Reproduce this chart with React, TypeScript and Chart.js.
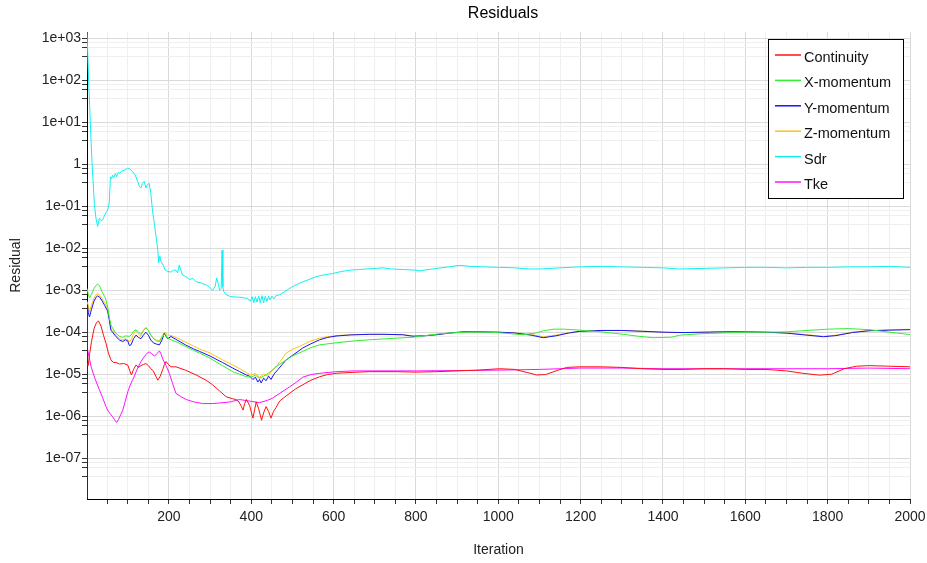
import React, { useEffect, useRef } from "react";
import { Chart, registerables } from "chart.js";

Chart.register(...registerables);

const FONT = '"Liberation Sans", Arial, Helvetica, sans-serif';

const titleText = "Residuals";
const xTitle = "Iteration";
const yTitle = "Residual";

const seriesLabels = ["Continuity", "X-momentum", "Y-momentum", "Z-momentum", "Sdr", "Tke"];
const seriesColors = ["#ff1010", "#33ee33", "#1515f0", "#ffc21a", "#10f0f0", "#ff10ff"];

const xMajorTicks = [200, 400, 600, 800, 1000, 1200, 1400, 1600, 1800, 2000];
const xMinorStep = 50;
const yMajorExps = [-8, -7, -6, -5, -4, -3, -2, -1, 0, 1, 2, 3];
const yMinorFactors = [0.8, 0.6, 0.37];

// [iteration, residual]
const continuity: [number, number][] = [
  [1, 1.8e-5], [4, 1.6e-5], [7, 2.9e-5], [12, 6e-5], [18, 1.2e-4], [24, 1.7e-4], [29, 1.85e-4],
  [35, 1.4e-4], [41, 8.5e-5], [47, 5.5e-5], [53, 3.2e-5], [59, 2.2e-5], [65, 1.9e-5], [71, 1.9e-5],
  [80, 1.75e-5], [90, 1.8e-5], [100, 1.65e-5], [105, 1.2e-5], [109, 9.6e-6], [114, 1.3e-5],
  [120, 1.66e-5], [126, 1.45e-5], [132, 1.6e-5], [138, 1.7e-5], [144, 1.8e-5], [150, 1.6e-5],
  [156, 1.35e-5], [162, 1.2e-5], [168, 9e-6], [173, 7.2e-6], [179, 9e-6], [185, 1.3e-5],
  [189, 1.7e-5], [193, 2e-5], [199, 1.7e-5], [205, 1.5e-5], [217, 1.5e-5], [240, 1.25e-5],
  [266, 9.6e-6], [290, 7.2e-6], [306, 5.6e-6], [323, 4e-6], [339, 2.9e-6], [355, 2.6e-6],
  [363, 2.5e-6], [370, 2.2e-6], [376, 1.7e-6], [380, 1.4e-6], [384, 2e-6], [388, 2.5e-6],
  [396, 1.8e-6], [404, 9e-7], [408, 1.4e-6], [412, 2.2e-6], [418, 1.5e-6], [425, 8e-7],
  [430, 1.2e-6], [436, 1.7e-6], [442, 1.3e-6], [448, 9e-7], [454, 1.3e-6], [460, 1.6e-6],
  [469, 2.3e-6], [480, 2.8e-6], [493, 3.5e-6], [508, 4.5e-6], [525, 5.6e-6], [545, 7.2e-6],
  [566, 8.7e-6], [585, 9.8e-6], [606, 1.05e-5], [640, 1.1e-5], [687, 1.15e-5], [750, 1.15e-5],
  [800, 1.12e-5], [850, 1.15e-5], [900, 1.2e-5], [950, 1.25e-5], [1003, 1.35e-5], [1040, 1.3e-5],
  [1070, 1.1e-5], [1093, 9.6e-6], [1115, 9.8e-6], [1140, 1.2e-5], [1166, 1.45e-5], [1198, 1.5e-5],
  [1250, 1.5e-5], [1300, 1.45e-5], [1350, 1.35e-5], [1400, 1.3e-5], [1450, 1.3e-5], [1500, 1.35e-5],
  [1550, 1.35e-5], [1600, 1.3e-5], [1650, 1.3e-5], [1700, 1.2e-5], [1740, 1.05e-5], [1780, 9.5e-6],
  [1810, 1e-5], [1840, 1.35e-5], [1870, 1.55e-5], [1900, 1.6e-5], [1950, 1.55e-5], [2000, 1.5e-5],
];

const xMomentum: [number, number][] = [
  [1, 1.1e-3], [4, 8e-4], [7, 6.5e-4], [12, 8e-4], [18, 1.1e-3], [23, 1.3e-3], [27, 1.4e-3],
  [32, 1.25e-3], [38, 9e-4], [44, 7e-4], [47, 5.9e-4], [51, 4e-4], [55, 2.3e-4], [59, 1.5e-4],
  [63, 1.26e-4], [71, 9.5e-5], [80, 8e-5], [88, 7.5e-5], [94, 8.2e-5], [100, 8e-5], [104, 8e-5],
  [108, 8.5e-5], [114, 1.05e-4], [120, 1.15e-4], [126, 1e-4], [132, 9e-5], [138, 1.1e-4],
  [144, 1.26e-4], [150, 1.1e-4], [156, 8.5e-5], [163, 7e-5], [170, 6.3e-5], [177, 6e-5],
  [183, 7.5e-5], [189, 9e-5], [193, 8.5e-5], [197, 7.2e-5], [205, 6.6e-5], [220, 5.8e-5],
  [240, 4.6e-5], [260, 3.7e-5], [274, 3.2e-5], [300, 2.4e-5], [330, 1.6e-5], [355, 1.15e-5],
  [372, 1e-5], [388, 8.7e-6], [400, 8.5e-6], [410, 9.5e-6], [420, 8e-6], [430, 9e-6], [444, 1.1e-5],
  [460, 1.5e-5], [485, 2.2e-5], [500, 2.7e-5], [525, 3.5e-5], [545, 4.3e-5], [566, 5e-5],
  [606, 5.6e-5], [650, 6.2e-5], [687, 6.6e-5], [750, 7.2e-5], [793, 7.6e-5], [858, 9.2e-5],
  [900, 9.8e-5], [930, 1e-4], [980, 1e-4], [1020, 9.4e-5], [1060, 8.7e-5], [1090, 9.5e-5],
  [1110, 1.08e-4], [1133, 1.18e-4], [1160, 1.18e-4], [1198, 1.12e-4], [1250, 1.02e-4], [1300, 9e-5],
  [1340, 8e-5], [1376, 7.4e-5], [1420, 7.6e-5], [1441, 8.5e-5], [1500, 9.3e-5], [1550, 9.6e-5],
  [1600, 1e-4], [1650, 1e-4], [1700, 1.02e-4], [1750, 1.1e-4], [1800, 1.18e-4], [1850, 1.22e-4],
  [1900, 1.15e-4], [1950, 1e-4], [2000, 8.8e-5],
];

const yMomentum: [number, number][] = [
  [1, 1.1e-8], [2, 4.5e-4], [4, 3e-4], [7, 2.3e-4], [12, 3.5e-4], [18, 5.5e-4], [23, 6.8e-4],
  [27, 7.3e-4], [32, 6.8e-4], [38, 5.5e-4], [44, 4.3e-4], [51, 3.2e-4], [55, 2e-4], [59, 1.12e-4],
  [63, 1e-4], [71, 7.9e-5], [80, 6.5e-5], [88, 6e-5], [94, 6.6e-5], [100, 6.2e-5], [104, 4.8e-5],
  [108, 5e-5], [114, 7e-5], [120, 8.5e-5], [126, 7.5e-5], [132, 7e-5], [138, 8.5e-5], [144, 1e-4],
  [150, 8.5e-5], [156, 6.5e-5], [163, 5.5e-5], [170, 5.2e-5], [177, 5e-5], [183, 6.5e-5],
  [189, 9.5e-5], [193, 8e-5], [197, 7e-5], [205, 7.9e-5], [220, 6.5e-5], [240, 5e-5], [260, 4e-5],
  [274, 3.5e-5], [300, 2.7e-5], [330, 1.9e-5], [355, 1.4e-5], [372, 1.15e-5], [388, 9.6e-6],
  [396, 9e-6], [404, 7.5e-6], [410, 8.5e-6], [416, 6.5e-6], [420, 7.5e-6], [424, 6.2e-6],
  [430, 8e-6], [436, 7e-6], [442, 9e-6], [448, 7.5e-6], [455, 1e-5], [465, 1.3e-5], [475, 1.7e-5],
  [485, 2.2e-5], [500, 2.8e-5], [525, 4.2e-5], [545, 5.3e-5], [566, 6.6e-5], [585, 7.5e-5],
  [606, 8.1e-5], [640, 8.6e-5], [687, 8.9e-5], [720, 8.9e-5], [768, 8.7e-5], [793, 8e-5],
  [820, 8.2e-5], [850, 8.7e-5], [880, 9.5e-5], [915, 1.02e-4], [950, 1.02e-4], [1000, 1e-4],
  [1040, 9.6e-5], [1080, 8.5e-5], [1109, 7.4e-5], [1140, 8.2e-5], [1170, 9.5e-5], [1198, 1.05e-4],
  [1250, 1.1e-4], [1300, 1.1e-4], [1350, 1.05e-4], [1400, 1e-4], [1450, 9.8e-5], [1500, 1e-4],
  [1550, 1.02e-4], [1600, 1.02e-4], [1650, 1e-4], [1700, 9.5e-5], [1750, 8.5e-5], [1790, 7.8e-5],
  [1820, 8.3e-5], [1860, 9.8e-5], [1900, 1.08e-4], [1950, 1.12e-4], [2000, 1.15e-4],
];

const zMomentum: [number, number][] = [
  [1, 5.4e-4], [4, 4.5e-4], [7, 3e-4], [12, 4.5e-4], [18, 6.5e-4], [23, 7.7e-4], [27, 8.2e-4],
  [32, 7.6e-4], [38, 6.2e-4], [44, 5e-4], [51, 3.6e-4], [55, 2.2e-4], [59, 1.2e-4], [63, 1.12e-4],
  [71, 8.5e-5], [80, 7e-5], [88, 6.6e-5], [94, 7e-5], [100, 6.5e-5], [104, 6e-5], [108, 6.5e-5],
  [114, 9e-5], [120, 1.1e-4], [126, 9e-5], [132, 8e-5], [138, 1.1e-4], [144, 1.32e-4], [150, 1.1e-4],
  [156, 8.5e-5], [163, 7e-5], [170, 6.3e-5], [177, 6.2e-5], [183, 8e-5], [189, 1e-4], [193, 9.5e-5],
  [197, 8.5e-5], [205, 8.4e-5], [220, 7.3e-5], [240, 5.8e-5], [260, 4.7e-5], [274, 4e-5],
  [300, 3.2e-5], [330, 2.2e-5], [355, 1.66e-5], [372, 1.35e-5], [388, 1.1e-5], [400, 9.5e-6],
  [410, 1.05e-5], [420, 8.5e-6], [430, 1e-5], [440, 9e-6], [450, 1.2e-5], [460, 1.5e-5], [470, 2e-5],
  [485, 3.2e-5], [500, 3.9e-5], [525, 5e-5], [545, 6.2e-5], [566, 7.2e-5], [585, 7.8e-5],
  [606, 8.3e-5], [640, 8.7e-5], [687, 8.9e-5], [720, 8.9e-5], [768, 8.7e-5], [793, 8.2e-5],
  [820, 8.3e-5], [850, 8.7e-5], [880, 9.5e-5], [915, 1.02e-4], [950, 1.02e-4], [1000, 1e-4],
  [1040, 9.7e-5], [1080, 8.8e-5], [1109, 7.8e-5], [1140, 8.5e-5], [1170, 9.7e-5], [1198, 1.05e-4],
  [1250, 1.1e-4], [1300, 1.1e-4], [1350, 1.06e-4], [1400, 1e-4], [1450, 9.8e-5], [1500, 1e-4],
  [1550, 1.03e-4], [1600, 1.03e-4], [1650, 1e-4], [1700, 9.6e-5], [1750, 8.7e-5], [1790, 8e-5],
  [1820, 8.5e-5], [1860, 1e-4], [1900, 1.1e-4], [1950, 1.13e-4], [2000, 1.17e-4],
];

const sdr: [number, number][] = [
  [1, 1.4e3], [5, 1e2], [9, 1e1], [13, 1.15], [19, 0.107], [23, 0.05], [27, 0.033], [31, 0.052],
  [35, 0.045], [39, 0.047], [45, 0.065], [51, 0.08], [55, 0.12], [58, 0.5], [61, 0.45], [63, 0.55],
  [66, 0.48], [70, 0.6], [73, 0.5], [77, 0.65], [80, 0.6], [86, 0.7], [92, 0.72], [100, 0.8],
  [106, 0.75], [112, 0.66], [118, 0.55], [124, 0.39], [128, 0.3], [132, 0.27], [136, 0.35],
  [140, 0.39], [144, 0.27], [148, 0.33], [152, 0.35], [156, 0.2], [160, 0.08], [165, 0.035],
  [169, 0.018], [173, 0.009], [175, 0.0045], [178, 0.0065], [181, 0.0047], [186, 0.004],
  [191, 0.003], [197, 0.0028], [205, 0.0027], [211, 0.003], [217, 0.003], [221, 0.0026],
  [225, 0.004], [229, 0.003], [233, 0.0023], [241, 0.0021], [250, 0.0018], [258, 0.0019],
  [266, 0.0016], [276, 0.0015], [290, 0.00134], [298, 0.0012], [306, 0.001], [312, 0.0012],
  [316, 0.00195], [320, 0.0014], [323, 0.001], [327, 0.0011], [329, 0.009], [331, 0.0012],
  [333, 0.00093], [339, 0.00078], [350, 0.0007], [371, 0.00068], [390, 0.00064], [398, 0.00055],
  [402, 0.0007], [406, 0.0005], [410, 0.0007], [414, 0.00052], [418, 0.00072], [422, 0.0005],
  [426, 0.00074], [430, 0.0005], [434, 0.00072], [438, 0.00054], [442, 0.00072], [446, 0.00058],
  [450, 0.00072], [455, 0.00062], [460, 0.00074], [469, 0.00078], [480, 0.0009], [490, 0.00105],
  [501, 0.00123], [520, 0.0015], [540, 0.0018], [558, 0.0021], [575, 0.0023], [598, 0.0025],
  [620, 0.0028], [640, 0.003], [660, 0.0031], [680, 0.0032], [704, 0.0033], [720, 0.0034],
  [740, 0.0032], [770, 0.0031], [800, 0.003], [809, 0.0029], [830, 0.0031], [850, 0.0033],
  [880, 0.0036], [906, 0.0039], [930, 0.0037], [960, 0.0036], [1003, 0.0035], [1040, 0.0034],
  [1076, 0.0032], [1100, 0.0032], [1150, 0.0034], [1200, 0.0036], [1250, 0.0037], [1295, 0.0036],
  [1350, 0.0035], [1400, 0.0034], [1441, 0.0032], [1500, 0.0033], [1550, 0.0034], [1600, 0.0035],
  [1650, 0.0035], [1700, 0.0034], [1750, 0.0035], [1800, 0.0035], [1850, 0.0036], [1900, 0.0036],
  [1950, 0.0037], [2000, 0.0035],
];

const tke: [number, number][] = [
  [1, 5e-4], [2, 4e-5], [6, 2.6e-5], [11, 1.5e-5], [20, 8e-6], [31, 4.3e-6], [40, 2.6e-6],
  [47, 1.7e-6], [51, 1.4e-6], [57, 1.15e-6], [63, 9.8e-7], [68, 8.2e-7], [73, 7.1e-7], [78, 8.5e-7],
  [83, 1.1e-6], [88, 1.4e-6], [94, 2.3e-6], [100, 3.8e-6], [106, 5.5e-6], [112, 7.4e-6],
  [116, 9e-6], [124, 1.4e-5], [132, 2e-5], [140, 2.6e-5], [146, 3.1e-5], [152, 3.4e-5],
  [158, 3.1e-5], [165, 2.7e-5], [171, 3.1e-5], [177, 3.6e-5], [181, 3e-5], [185, 2.3e-5],
  [193, 1.6e-5], [201, 1.05e-5], [209, 6e-6], [217, 3.5e-6], [230, 2.9e-6], [242, 2.5e-6],
  [260, 2.2e-6], [282, 2e-6], [305, 2e-6], [331, 2.1e-6], [350, 2.2e-6], [371, 2.5e-6],
  [395, 2.3e-6], [420, 2.1e-6], [440, 2.4e-6], [452, 2.7e-6], [469, 3.5e-6], [493, 5e-6],
  [510, 6.5e-6], [525, 8.5e-6], [545, 9.8e-6], [566, 1.05e-5], [606, 1.15e-5], [650, 1.2e-5],
  [700, 1.2e-5], [800, 1.2e-5], [900, 1.22e-5], [1000, 1.25e-5], [1100, 1.3e-5], [1200, 1.4e-5],
  [1300, 1.4e-5], [1400, 1.35e-5], [1500, 1.35e-5], [1600, 1.35e-5], [1700, 1.35e-5],
  [1800, 1.35e-5], [1900, 1.4e-5], [2000, 1.35e-5],
];

const seriesData = [continuity, xMomentum, yMomentum, zMomentum, sdr, tke];

const Y_MIN = 1.07e-8;
const Y_MAX = 1.4e3;

function isMajorLog(v: number) {
  const l = Math.log10(v);
  return Math.abs(l - Math.round(l)) < 1e-6;
}

function fmtLog(v: number) {
  const e = Math.round(Math.log10(v));
  if (e === 0) return "1";
  const a = Math.abs(e);
  return "1e" + (e > 0 ? "+" : "-") + (a < 10 ? "0" + a : String(a));
}

const overlayPlugin = {
  id: "overlay",
  afterDraw(chart: any) {
    const ctx = chart.ctx;
    const area = chart.chartArea;
    ctx.save();
    ctx.fillStyle = "#000";
    ctx.font = `16px ${FONT}`;
    ctx.textAlign = "center";
    ctx.textBaseline = "middle";
    ctx.fillText(titleText, (area.left + area.right) / 2 + 4.5, 14);

    const bx = 768, by = 39, bw = 135, bh = 159;
    ctx.fillStyle = "#fff";
    ctx.fillRect(bx, by, bw, bh);
    ctx.strokeStyle = "#000";
    ctx.lineWidth = 1;
    ctx.strokeRect(bx + 0.5, by + 0.5, bw, bh);
    chart.data.datasets.forEach((ds: any, i: number) => {
      const y = by + 16 + i * 25.4;
      ctx.strokeStyle = ds.borderColor;
      ctx.lineWidth = 1.5;
      ctx.beginPath();
      ctx.moveTo(bx + 7, y);
      ctx.lineTo(bx + 33, y);
      ctx.stroke();
      ctx.fillStyle = "#111";
      ctx.textAlign = "left";
      ctx.textBaseline = "middle";
      ctx.font = `14.5px ${FONT}`;
      ctx.fillText(ds.label, bx + 36, y + 3);
    });
    ctx.restore();
  },
};

export default function App() {
  const ref = useRef<HTMLCanvasElement | null>(null);

  useEffect(() => {
    if (!ref.current) return;
    Chart.defaults.font.family = FONT;

    const xTickValues: number[] = [];
    for (let v = xMinorStep; v <= xMajorTicks[xMajorTicks.length - 1]; v += xMinorStep) xTickValues.push(v);

    const yTickValues: number[] = [];
    yMajorExps.forEach((e) => {
      const base = Math.pow(10, e);
      [base, ...yMinorFactors.map((f) => f * base)].forEach((v) => {
        if (v >= Y_MIN && v <= Y_MAX) yTickValues.push(v);
      });
    });
    yTickValues.sort((a, b) => a - b);

    const chart = new Chart(ref.current, {
      type: "line",
      data: {
        datasets: seriesLabels.map((label, i) => ({
          label,
          data: seriesData[i].map(([x, y]) => ({ x, y })),
          borderColor: seriesColors[i],
          backgroundColor: seriesColors[i],
          borderWidth: 1,
          pointRadius: 0,
          tension: 0,
          fill: false,
        })),
      },
      options: {
        animation: false,
        responsive: true,
        maintainAspectRatio: false,
        layout: { padding: { top: 32, right: 17, left: 0, bottom: 0 } },
        plugins: {
          legend: { display: false },
          title: { display: false },
          tooltip: { enabled: false },
        },
        scales: {
          x: {
            type: "linear",
            min: 1,
            max: 2000,
            afterBuildTicks: (s: any) => {
              s.ticks = xTickValues.map((v) => ({ value: v }));
            },
            afterFit: (s: any) => {
              s.height = 64;
              s.paddingLeft = 0;
              s.paddingRight = 0;
            },
            ticks: {
              autoSkip: false,
              maxRotation: 0,
              padding: 5,
              color: "#222",
              font: { size: 14, family: FONT },
              callback: (v: any) => (xMajorTicks.includes(Number(v)) ? String(v) : ""),
            },
            grid: {
              color: (c: any) => (c.tick && xMajorTicks.includes(c.tick.value) ? "#dadada" : "#efefef"),
              tickColor: "#333",
              tickLength: 5,
              lineWidth: 1,
            },
            border: { color: "#000", width: 1 },
            title: {
              display: true,
              text: xTitle,
              color: "#222",
              font: { size: 14, family: FONT },
              padding: { top: 0, bottom: 4.6 },
            },
          },
          y: {
            type: "logarithmic",
            min: Y_MIN,
            max: Y_MAX,
            afterBuildTicks: (s: any) => {
              s.ticks = yTickValues.map((v) => ({ value: v }));
            },
            afterFit: (s: any) => {
              s.width = 87;
              s.paddingTop = 0;
              s.paddingBottom = 0;
            },
            ticks: {
              autoSkip: false,
              padding: 1,
              color: "#222",
              font: { size: 14, family: FONT },
              callback: (v: any) => (isMajorLog(Number(v)) ? fmtLog(Number(v)) : ""),
            },
            grid: {
              color: (c: any) => (c.tick && isMajorLog(c.tick.value) ? "#dadada" : "#efefef"),
              tickColor: "#333",
              tickLength: 5,
              lineWidth: 1,
            },
            border: { color: "#000", width: 1 },
            title: {
              display: true,
              text: yTitle,
              color: "#222",
              font: { size: 14, family: FONT },
              padding: { top: 7.6, bottom: 0 },
            },
          },
        },
      },
      plugins: [overlayPlugin],
    } as any);

    return () => chart.destroy();
  }, []);

  return (
    <div style={{ position: "absolute", left: 0, top: 0, width: 927, height: 563 }}>
      <canvas ref={ref} />
    </div>
  );
}
